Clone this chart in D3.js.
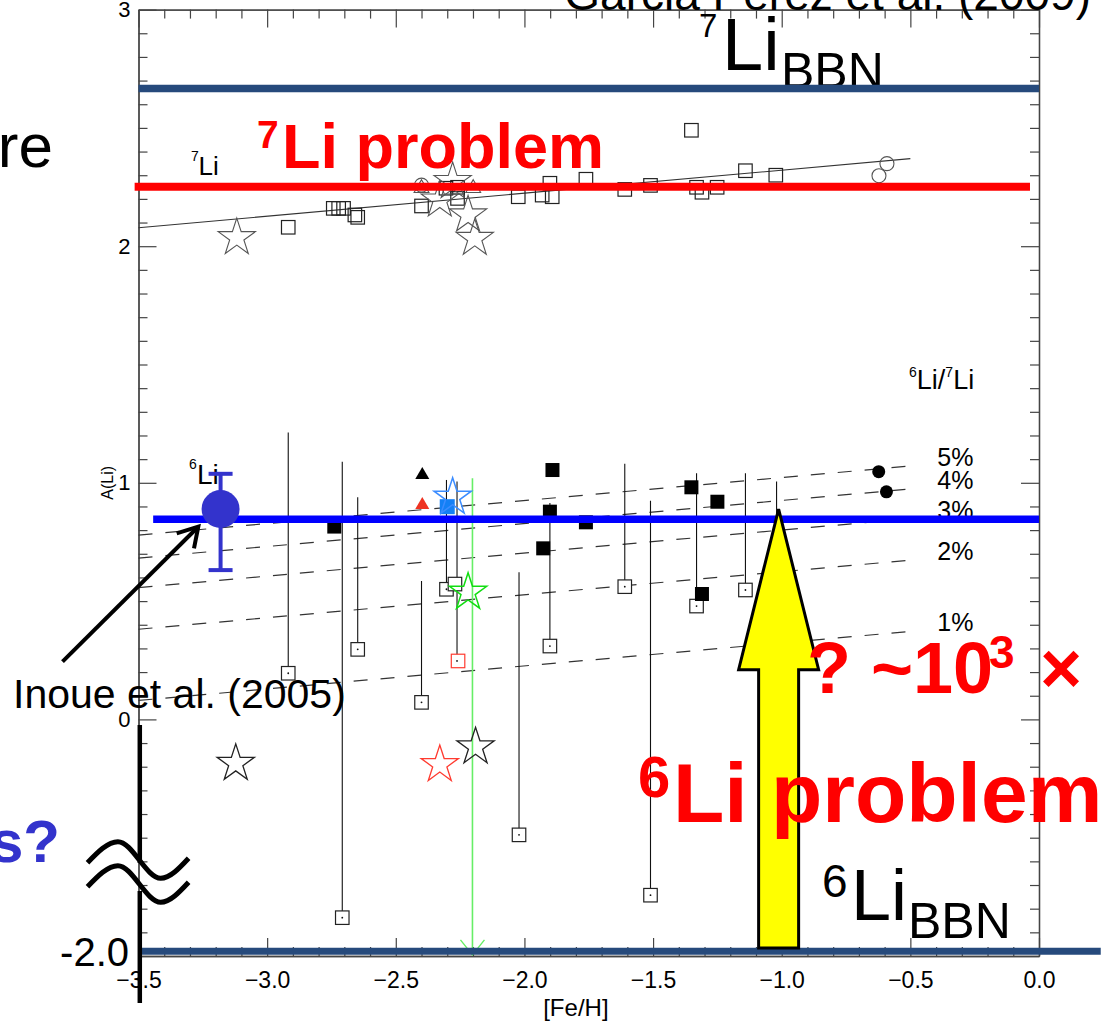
<!DOCTYPE html>
<html>
<head>
<meta charset="utf-8">
<script src="https://cdn.jsdelivr.net/npm/d3@7"></script>
<style>
  body { margin: 0; background: #fff; }
  svg { font-family: "Liberation Sans", Arial, Helvetica, sans-serif; }
</style>
</head>
<body>
<div class="chart"></div>
<script>
//Canvas size
var width = 1113,
    height = 1022;

//Plot frame (pixels)
var frame = { left: 138.5, right: 1039, top: 9.6, bottom: 956 };

// ---- values: [ [Fe/H], A(Li) ] ----
//7Li group
var li7Squares = [[-2.918,2.080],[-2.743,2.160],[-2.722,2.160],[-2.703,2.160],[-2.659,2.132],[-2.648,2.122],
                  [-2.400,2.170],[-2.305,2.245],[-2.260,2.249],[-2.260,2.202],[-2.024,2.209],[-1.931,2.216],
                  [-1.901,2.266],[-1.892,2.209],[-1.761,2.283],[-1.610,2.240],[-1.510,2.257],[-1.351,2.490],
                  [-1.331,2.249],[-1.310,2.228],[-1.251,2.249],[-1.141,2.319],[-1.023,2.300]];
var li7Stars = [[-3.118,2.036],[-2.329,2.195],[-2.279,2.273],[-2.219,2.132],[-2.193,2.033]];
var li7Circles = [[-2.400,2.258],[-0.622,2.298],[-0.591,2.349]];
var li7Triangles = [[-2.400,2.245],[-2.199,2.245]];
var li7Trend = [[-3.5,2.078],[-0.5,2.370]];

//6Li group
var li6Squares = [[-2.739,0.815],[-1.891,1.054],[-1.901,0.878],[-1.927,0.723],[-1.761,0.833],
                  [-1.351,0.981],[-1.250,0.920],[-1.310,0.530]];
var li6Circles = [[-0.623,1.047],[-0.593,0.962]];
var li6TriBlack = [[-2.397,1.033]];
var li6TriRed = [[-2.397,0.906]];
var li6BlueSquare = [[-2.300,0.899]];
var li6OpenSquares = [[-2.918,0.195],[-2.708,-0.838],[-2.648,0.296],[-2.400,0.072],[-2.303,0.550],[-2.270,0.572],
                      [-2.021,-0.488],[-1.901,0.310],[-1.610,0.561],[-1.510,-0.743],[-1.331,0.479],[-1.141,0.547]];
var li6RedOpenSquares = [[-2.258,0.247]];
//vertical limit bars: [ [Fe/H], low, high ]
var li6Limits = [[-2.918,0.195,1.213],[-2.708,-0.838,1.089],[-2.648,0.296,0.939],[-2.400,0.072,0.585],
                 [-2.303,0.550,1.012],[-2.262,0.247,1.005],[-2.021,-0.488,0.622],[-1.901,0.310,0.915],
                 [-1.610,0.561,1.080],[-1.510,-0.743,0.924],[-1.331,0.479,1.040],[-1.141,0.547,1.040],
                 [-1.020,0.600,1.005]];
var li6StarsBlack = [[-3.122,-0.186],[-2.190,-0.116]];
var li6StarsRed = [[-2.329,-0.191]];
var li6StarsBlue = [[-2.279,0.939]];
var li6StarsGreen = [[-2.219,0.537]];
var greenLimit = [-2.202, 1.019, -0.995];

//Inoue et al. (2005): [Fe/H], A, low, high
var inoue = [-3.181, 0.889, 0.631, 1.038];

//6Li/7Li ratio lines (A at [Fe/H] = -3.5 and -0.5)
var ratioLabels = ["5%", "4%", "3%", "2%", "1%"];
var ratioLeft = [0.779, 0.682, 0.557, 0.381, 0.080];
var ratioRight = [1.071, 0.974, 0.849, 0.673, 0.372];

//Horizontal reference levels
var li7BBN = 2.667,
    li7Plateau = 2.251,
    li6Plateau = 0.846,
    li6BBN = -0.98;   //drawn just above the broken bottom axis, labelled -2.0

//Yellow arrow: [Fe/H], base, head base, tip
var arrow = [-1.012, -0.966, 0.21, 0.889];

//Axis ticks
var xMajor = [-3.5, -3.0, -2.5, -2.0, -1.5, -1.0, -0.5, 0.0];
var xMinor = d3.range(-35, 1).filter(function(i) { return i % 5 != 0; }).map(function(i) { return i / 10; });
var yMajor = [0, 1, 2, 3];
var yMinor = d3.range(-10, 31).filter(function(i) { return i % 10 != 0; }).map(function(i) { return i / 10; });

//Scales
var x = d3.scaleLinear().domain([-3.5, 0]).range([frame.left, frame.right]);
var y = d3.scaleLinear().domain([-1, 3]).range([frame.bottom, frame.top]);

var svg = d3.select(".chart")
            .append("svg")
            .attr("width", width)
            .attr("height", height);

var axisColor = "#444";

// ---- axes (ticks point inward) ----
function styleAxis(g) {
  g.attr("font-family", null).attr("font-size", null);
  g.selectAll("path.domain").attr("stroke", axisColor).attr("stroke-width", 1.3);
  g.selectAll(".tick line").attr("stroke", axisColor).attr("stroke-width", 1.2);
  g.selectAll(".tick text").attr("fill", "#000");
}

svg.append("g").attr("transform", "translate(0," + frame.bottom + ")")
   .call(d3.axisBottom(x).tickValues(xMinor).tickSize(-9).tickSizeOuter(0).tickFormat(""))
   .call(styleAxis);
svg.append("g").attr("transform", "translate(0," + frame.bottom + ")")
   .call(d3.axisBottom(x).tickValues(xMajor).tickSize(-18).tickSizeOuter(0).tickPadding(16).tickFormat(d3.format(".1f")))
   .call(styleAxis)
   .selectAll("text").style("font-size", "23px");

svg.append("g").attr("transform", "translate(0," + frame.top + ")")
   .call(d3.axisTop(x).tickValues(xMinor).tickSize(-9).tickSizeOuter(0).tickFormat(""))
   .call(styleAxis);
svg.append("g").attr("transform", "translate(0," + frame.top + ")")
   .call(d3.axisTop(x).tickValues(xMajor).tickSize(-18).tickSizeOuter(0).tickFormat(""))
   .call(styleAxis);

svg.append("g").attr("transform", "translate(" + frame.left + ",0)")
   .call(d3.axisLeft(y).tickValues(yMinor).tickSize(-9).tickSizeOuter(0).tickFormat(""))
   .call(styleAxis);
svg.append("g").attr("transform", "translate(" + frame.left + ",0)")
   .call(d3.axisLeft(y).tickValues(yMajor).tickSize(-18).tickSizeOuter(0).tickPadding(8).tickFormat(d3.format("d")))
   .call(styleAxis)
   .selectAll("text").style("font-size", "22px");

svg.append("g").attr("transform", "translate(" + frame.right + ",0)")
   .call(d3.axisRight(y).tickValues(yMinor).tickSize(-9).tickSizeOuter(0).tickFormat(""))
   .call(styleAxis);
svg.append("g").attr("transform", "translate(" + frame.right + ",0)")
   .call(d3.axisRight(y).tickValues(yMajor).tickSize(-18).tickSizeOuter(0).tickFormat(""))
   .call(styleAxis);

//Axis titles
svg.append("text")
   .attr("transform", "translate(113," + y(1.0) + ") rotate(-90)")
   .attr("text-anchor", "middle")
   .attr("font-size", 16)
   .text("A(Li)");

svg.append("text")
   .attr("x", x(-1.8)).attr("y", 1016)
   .attr("text-anchor", "middle")
   .attr("font-size", 24)
   .text("[Fe/H]");

// ---- ratio lines and 7Li trend ----
var ratioG = svg.append("g");
ratioG.selectAll("line")
      .data(ratioLabels)
      .enter().append("line")
      .attr("x1", x(-3.5)).attr("x2", x(-0.5))
      .attr("y1", function(d, i) { return y(ratioLeft[i]); })
      .attr("y2", function(d, i) { return y(ratioRight[i]); })
      .attr("stroke", "#333").attr("stroke-width", 1.2)
      .attr("stroke-dasharray", "14,13");

ratioG.selectAll("text")
      .data(ratioLabels)
      .enter().append("text")
      .attr("x", x(-0.5) + 27)
      .attr("y", function(d, i) { return y(ratioRight[i]); })
      .attr("font-size", 25)
      .text(function(d) { return d; });

svg.append("path")
   .datum(li7Trend)
   .attr("d", d3.line().x(function(d) { return x(d[0]); }).y(function(d) { return y(d[1]); }))
   .attr("stroke", "#333").attr("stroke-width", 1.1).attr("fill", "none");

// ---- limit bars ----
svg.selectAll(".limit")
   .data(li6Limits)
   .enter().append("line")
   .attr("class", "limit")
   .attr("x1", function(d) { return x(d[0]); }).attr("x2", function(d) { return x(d[0]); })
   .attr("y1", function(d) { return y(d[1]); }).attr("y2", function(d) { return y(d[2]); })
   .attr("stroke", "#111").attr("stroke-width", 1.1);

//Green limit line with arrow at the bottom
svg.append("line")
   .attr("x1", x(greenLimit[0])).attr("x2", x(greenLimit[0]))
   .attr("y1", y(greenLimit[1])).attr("y2", y(greenLimit[2]))
   .attr("stroke", "#66ee66").attr("stroke-width", 1.6);
svg.append("path")
   .attr("d", "M" + (x(greenLimit[0]) - 12) + "," + (y(greenLimit[2]) - 15) +
              "L" + x(greenLimit[0]) + "," + y(greenLimit[2]) +
              "L" + (x(greenLimit[0]) + 12) + "," + (y(greenLimit[2]) - 15))
   .attr("stroke", "#66ee66").attr("stroke-width", 1.4).attr("fill", "none");

// ---- markers ----
function place(d) { return "translate(" + x(d[0]) + "," + y(d[1]) + ")"; }

function drawSquares(data, side, fill, stroke, sw) {
  svg.append("g").selectAll("rect")
     .data(data)
     .enter().append("rect")
     .attr("x", function(d) { return x(d[0]) - side / 2; })
     .attr("y", function(d) { return y(d[1]) - side / 2; })
     .attr("width", side).attr("height", side)
     .attr("fill", fill).attr("stroke", stroke).attr("stroke-width", sw);
}

function drawSymbols(data, type, size, fill, stroke, sw) {
  svg.append("g").selectAll("path")
     .data(data)
     .enter().append("path")
     .attr("transform", place)
     .attr("d", d3.symbol().type(type).size(size))
     .attr("fill", fill).attr("stroke", stroke).attr("stroke-width", sw);
}

function drawCircles(data, r, fill, stroke, sw) {
  svg.append("g").selectAll("circle")
     .data(data)
     .enter().append("circle")
     .attr("cx", function(d) { return x(d[0]); })
     .attr("cy", function(d) { return y(d[1]); })
     .attr("r", r)
     .attr("fill", fill).attr("stroke", stroke).attr("stroke-width", sw);
}

//7Li
drawSquares(li7Squares, 13.5, "none", "#222", 1.2);
drawCircles(li7Circles, 7, "none", "#555", 1.1);
drawSymbols(li7Triangles, d3.symbolTriangle, 95, "none", "#555", 1.1);
drawSymbols(li7Stars, d3.symbolStar, 430, "none", "#555", 1.1);

//6Li
drawSquares(li6OpenSquares, 13.5, "#fff", "#222", 1.2);
drawSquares(li6RedOpenSquares, 13.5, "#fff", "#ff3b30", 1.2);
//small dots at the end of the bars
svg.append("g").selectAll("circle")
   .data(li6Limits.slice(0, 12))
   .enter().append("circle")
   .attr("cx", function(d) { return x(d[0]); })
   .attr("cy", function(d) { return y(d[1]); })
   .attr("r", 0.9).attr("fill", "#111");

drawSquares(li6Squares, 14, "#000", "none", 0);
drawCircles(li6Circles, 6.5, "#000", "none", 0);
drawSymbols(li6TriBlack, d3.symbolTriangle, 85, "#000", "none", 0);
drawSymbols(li6TriRed, d3.symbolTriangle, 85, "#ee3322", "none", 0);
drawSquares(li6BlueSquare, 15, "#1480f5", "none", 0);
drawSymbols(li6StarsBlue, d3.symbolStar, 430, "none", "#3b8cff", 1.5);
drawSymbols(li6StarsGreen, d3.symbolStar, 430, "none", "#11dd11", 1.5);
drawSymbols(li6StarsBlack, d3.symbolStar, 430, "none", "#222", 1.3);
drawSymbols(li6StarsRed, d3.symbolStar, 430, "none", "#ff3b30", 1.3);

// ---- small labels ----
svg.append("text").attr("x", 191).attr("y", 161).attr("font-size", 14).text("7");
svg.append("text").attr("x", 198.5).attr("y", 175).attr("font-size", 26).text("Li");
svg.append("text").attr("x", 189).attr("y", 469).attr("font-size", 14).text("6");
svg.append("text").attr("x", 197).attr("y", 484).attr("font-size", 28).text("Li");

var ratioTitle = svg.append("text").attr("x", 909).attr("y", 389).attr("font-size", 27);
ratioTitle.append("tspan").attr("font-size", 14).attr("dy", -12).text("6");
ratioTitle.append("tspan").attr("dy", 12).text("Li/");
ratioTitle.append("tspan").attr("font-size", 14).attr("dy", -12).text("7");
ratioTitle.append("tspan").attr("dy", 12).text("Li");

// ---- 7Li BBN ----
svg.append("text").attr("x", 699).attr("y", 37).attr("font-size", 33).text("7");
svg.append("text").attr("x", 722).attr("y", 70).attr("font-size", 74).text("Li");
svg.append("text").attr("x", 781).attr("y", 88).attr("font-size", 50).text("BBN");

function hLine(level, x0, x1, color, sw) {
  svg.append("line")
     .attr("x1", x(x0)).attr("x2", x(x1))
     .attr("y1", y(level)).attr("y2", y(level))
     .attr("stroke", color).attr("stroke-width", sw);
}

hLine(li7BBN, -3.5, 0, "#264a7c", 7.5);
hLine(li7Plateau, -3.515, -0.035, "#ff0000", 8);
hLine(li6Plateau, -3.443, 0, "#0000ff", 7.5);

// ---- Inoue et al. point ----
var inoueColor = "#3333cc";
svg.append("line")
   .attr("x1", x(inoue[0])).attr("x2", x(inoue[0]))
   .attr("y1", y(inoue[2])).attr("y2", y(inoue[3]))
   .attr("stroke", inoueColor).attr("stroke-width", 4);
[inoue[2], inoue[3]].forEach(function(v) {
  svg.append("line")
     .attr("x1", x(inoue[0]) - 12).attr("x2", x(inoue[0]) + 12)
     .attr("y1", y(v)).attr("y2", y(v))
     .attr("stroke", inoueColor).attr("stroke-width", 4);
});
svg.append("circle")
   .attr("cx", x(inoue[0])).attr("cy", y(inoue[1])).attr("r", 19)
   .attr("fill", inoueColor);

// ---- 6Li BBN line at the broken bottom ----
hLine(li6BBN, -3.49, 0.24, "#264a7c", 7);

// ---- yellow arrow ----
var ax = x(arrow[0]), shaft = 20, head = 40;
svg.append("path")
   .attr("d", "M" + (ax - shaft) + "," + y(arrow[1]) +
              "L" + (ax - shaft) + "," + y(arrow[2]) +
              "L" + (ax - head) + "," + y(arrow[2]) +
              "L" + ax + "," + y(arrow[3]) +
              "L" + (ax + head) + "," + y(arrow[2]) +
              "L" + (ax + shaft) + "," + y(arrow[2]) +
              "L" + (ax + shaft) + "," + y(arrow[1]) + "Z")
   .attr("fill", "#ffff00").attr("stroke", "#000").attr("stroke-width", 3)
   .attr("stroke-linejoin", "miter");

// ---- big annotations ----
var red = "#ff0000";
svg.append("text").attr("x", 257).attr("y", 148).attr("font-size", 39).attr("font-weight", "bold").attr("fill", red).text("7");
svg.append("text").attr("x", 282).attr("y", 168).attr("font-size", 63).attr("font-weight", "bold").attr("fill", red).text("Li problem");

svg.append("text").attr("x", 638).attr("y", 797).attr("font-size", 58).attr("font-weight", "bold").attr("fill", red).text("6");
svg.append("text").attr("x", 673).attr("y", 822).attr("font-size", 84).attr("font-weight", "bold").attr("fill", red).text("Li problem");

svg.append("text").attr("x", 807).attr("y", 693).attr("font-size", 72).attr("font-weight", "bold").attr("fill", red).text("? ~10");
svg.append("text").attr("x", 989).attr("y", 668).attr("font-size", 46).attr("font-weight", "bold").attr("fill", red).text("3");
svg.append("text").attr("x", 1040).attr("y", 693).attr("font-size", 72).attr("font-weight", "bold").attr("fill", red).text("×");

svg.append("text").attr("x", 822).attr("y", 897).attr("font-size", 46).text("6");
svg.append("text").attr("x", 851).attr("y", 920).attr("font-size", 72).text("Li");
svg.append("text").attr("x", 908).attr("y", 938).attr("font-size", 50).text("BBN");

svg.append("text").attr("x", 1091).attr("y", 9.5).attr("text-anchor", "end").attr("font-size", 46)
   .text("Garcia Perez et al. (2009)");

svg.append("text").attr("x", 53).attr("y", 167).attr("text-anchor", "end").attr("font-size", 62).text("re");
svg.append("text").attr("x", 60).attr("y", 862).attr("text-anchor", "end").attr("font-size", 60)
   .attr("font-weight", "bold").attr("fill", inoueColor).text("s?");

// ---- axis break ----
svg.append("line").attr("x1", 139.8).attr("x2", 139.8).attr("y1", 725).attr("y2", 863)
   .attr("stroke", "#000").attr("stroke-width", 4.5);
svg.append("line").attr("x1", 139.8).attr("x2", 139.8).attr("y1", 891).attr("y2", 1003)
   .attr("stroke", "#000").attr("stroke-width", 4.5);

var wave = [[87.5, 862.7], [117.9, 841.7], [160.7, 878.3], [188.6, 858.3]];
var waveLine = d3.line().x(function(d) { return d[0]; }).y(function(d) { return d[1]; }).curve(d3.curveMonotoneX);
[0, 24].forEach(function(dy) {
  svg.append("path")
     .attr("d", waveLine(wave.map(function(p) { return [p[0], p[1] + dy]; })))
     .attr("fill", "none").attr("stroke", "#000").attr("stroke-width", 5);
});

svg.append("text").attr("x", 129).attr("y", 966).attr("text-anchor", "end").attr("font-size", 40).text("-2.0");

// ---- Inoue arrow and label ----
svg.append("line").attr("x1", 62.5).attr("y1", 661.7).attr("x2", 197).attr("y2", 528)
   .attr("stroke", "#000").attr("stroke-width", 4);
svg.append("path").attr("d", "M176.7,533.3L198.3,526.7L194,548.3")
   .attr("fill", "none").attr("stroke", "#000").attr("stroke-width", 4).attr("stroke-linejoin", "miter");
svg.append("text").attr("x", 13).attr("y", 708).attr("font-size", 41).text("Inoue et al. (2005)");
</script>
</body>
</html>
